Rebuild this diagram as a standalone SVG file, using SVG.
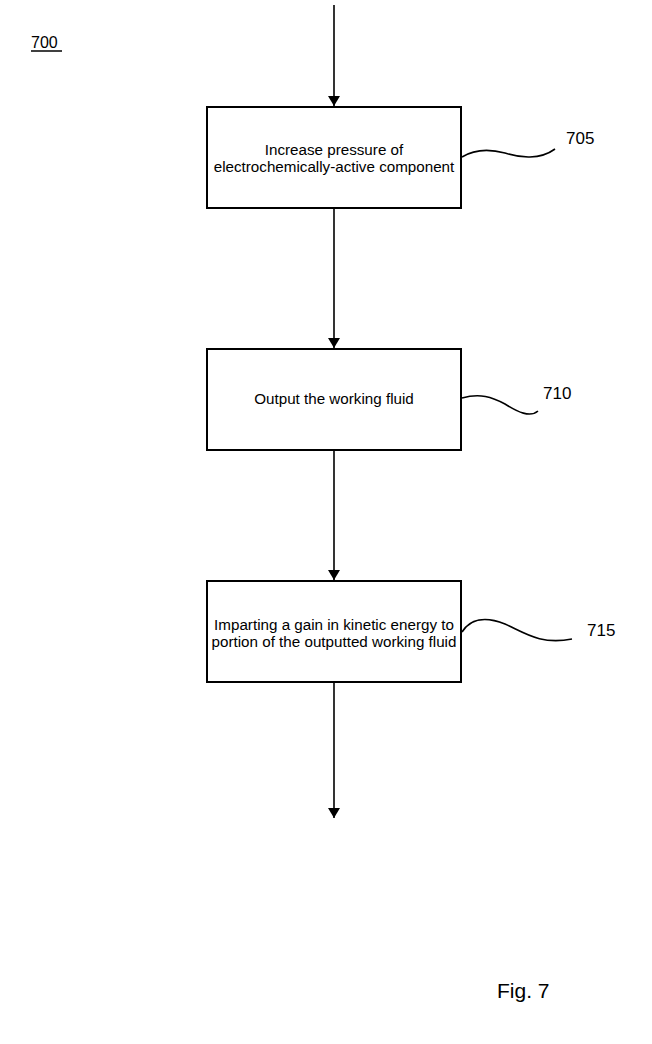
<svg xmlns="http://www.w3.org/2000/svg" width="652" height="1044" viewBox="0 0 652 1044">
<style>
.box{fill:#fff;stroke:#000;stroke-width:2}
.t{font-family:"Liberation Sans",Arial,sans-serif;font-size:15.2px;fill:#000;text-anchor:middle}
.ref{font-family:"Liberation Sans",Arial,sans-serif;font-size:17px;fill:#000}
.conn{stroke:#000;stroke-width:1.6;fill:none}
.sq{stroke:#000;stroke-width:1.6;fill:none}
</style>
<defs>
<marker id="ah" markerWidth="10" markerHeight="12" refX="10" refY="6" orient="auto" markerUnits="userSpaceOnUse" viewBox="0 0 10 12">
<path d="M0,0 L10,6 L0,12 Z" fill="#000"/>
</marker>
</defs>
<rect width="652" height="1044" fill="#fff"/>
<g id="label700">
<text x="31" y="48" class="ref" style="font-size:16px">700</text>
<line x1="31" y1="51" x2="62" y2="51" stroke="#000" stroke-width="1.5"/>
</g>
<g id="connectors">
<line class="conn" x1="334" y1="5" x2="334" y2="106" marker-end="url(#ah)"/>
<line class="conn" x1="334" y1="209" x2="334" y2="348" marker-end="url(#ah)"/>
<line class="conn" x1="334" y1="451" x2="334" y2="580" marker-end="url(#ah)"/>
<line class="conn" x1="334" y1="683" x2="334" y2="818" marker-end="url(#ah)"/>
</g>
<g id="node705">
<rect class="box" x="207" y="107" width="254" height="101"/>
<text class="t" x="334" y="155">Increase pressure of</text>
<text class="t" x="334" y="172">electrochemically-active component</text>
<path class="sq" d="M462,157 C475,149 490,149 505,153 C520,158 540,160 555,149"/>
<text class="ref" x="566" y="144">705</text>
</g>
<g id="node710">
<rect class="box" x="207" y="349" width="254" height="101"/>
<text class="t" x="334" y="404">Output the working fluid</text>
<path class="sq" d="M462,398 C480,393 492,397 505,404 C518,412 530,418 538,411"/>
<text class="ref" x="543" y="399">710</text>
</g>
<g id="node715">
<rect class="box" x="207" y="581" width="254" height="101"/>
<text class="t" x="334" y="630">Imparting a gain in kinetic energy to</text>
<text class="t" x="334" y="647">portion of the outputted working fluid</text>
<path class="sq" d="M462,632 C470,619 485,616 505,624 C525,633 540,645 572,639"/>
<text class="ref" x="587" y="636">715</text>
</g>
<g id="caption">
<text class="ref" x="497" y="998" style="font-size:21px">Fig. 7</text>
</g>
</svg>
